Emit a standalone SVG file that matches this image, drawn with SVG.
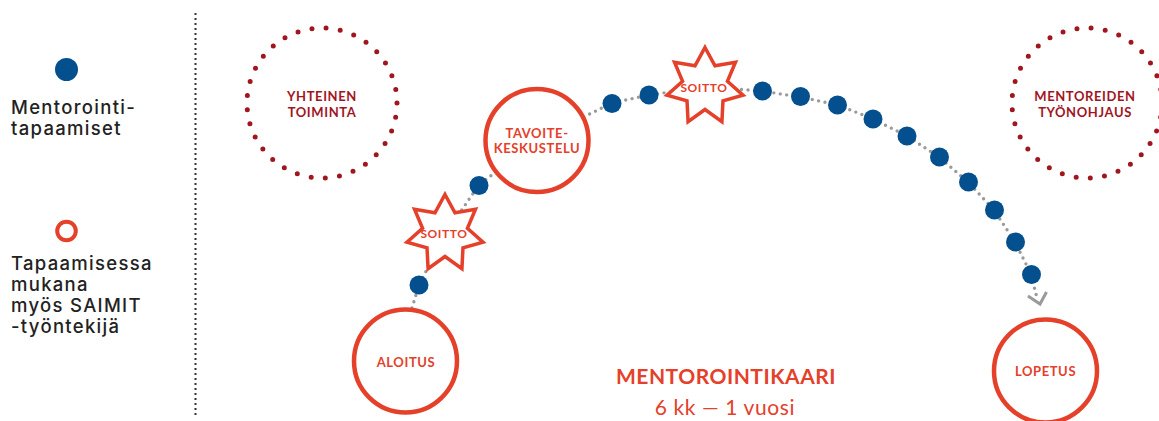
<svg xmlns="http://www.w3.org/2000/svg" width="1159" height="421" viewBox="0 0 1159 421">
  <style>
    .legend { font-family: Inter, Lato, "Noto Sans", sans-serif; font-weight: 500; font-size: 18.5px; fill: #222; letter-spacing: 1.3px; }
    .lbl { font-family: Lato, "Noto Sans", sans-serif; font-weight: 700; font-size: 13px; letter-spacing: 0.6px; text-anchor: middle; }
    .red { fill: #E5402A; }
    .dred { fill: #A0161F; }
    .ring { fill: #fff; stroke: #E5402A; stroke-width: 4.5; }
    .dotring { fill: none; stroke: #A0161F; stroke-width: 5; stroke-linecap: round; stroke-dasharray: 0 14.28; }
    .meet { fill: #04508F; }
    .star { fill: #fff; stroke: #E5402A; stroke-width: 3.5; stroke-linejoin: miter; }
    .trail { fill: none; stroke: #9A9A9A; stroke-width: 3.4; stroke-linecap: round; stroke-dasharray: 0 6.5; }
  </style>
  <defs>
    <polygon id="star7" points="0,-39 9.98,-20.72 30.49,-24.32 22.42,-5.12 38.02,8.68 17.98,14.34 16.92,35.14 0,23 -16.92,35.14 -17.98,14.34 -38.02,8.68 -22.42,-5.12 -30.49,-24.32 -9.98,-20.72"/>
  </defs>
  <rect width="1159" height="421" fill="#fff"/>

  <!-- legend -->
  <g id="legend">
    <circle cx="66.5" cy="69.5" r="11.5" class="meet"/>
    <text class="legend" x="11" y="114">Mentorointi-</text>
    <text class="legend" x="11" y="135">tapaamiset</text>
    <circle cx="66.5" cy="231" r="9.3" fill="none" stroke="#E5402A" stroke-width="4"/>
    <text class="legend" x="11" y="270">Tapaamisessa</text>
    <text class="legend" x="11" y="291">mukana</text>
    <text class="legend" x="11" y="312">myös SAIMIT</text>
    <text class="legend" x="11" y="333">-työntekijä</text>
  </g>
  <line x1="195.5" y1="13" x2="195.5" y2="416" stroke="#333" stroke-width="2" stroke-dasharray="2 3"/>

  <!-- connectors -->
  <g id="connectors">
    <path class="trail" d="M412,308 L419,285 L445,234 L479,185 L537,140 L612,103 L649,95 L705,87 L762,91 L800,97 L838,105 L873,119 L907,136 L939,157 L968,182 L994,210 L1015,242 L1031,274 L1037,298"/>
    <polyline points="1028,296 1040,304 1046.5,292" fill="none" stroke="#9A9A9A" stroke-width="3"/>
  </g>

  <!-- side activities -->
  <g id="yhteinen-toiminta">
    <circle cx="322" cy="103" r="75" class="dotring"/>
    <text class="lbl dred" x="322" y="101">YHTEINEN</text>
    <text class="lbl dred" x="322" y="117">TOIMINTA</text>
  </g>
  <g id="mentoreiden-tyonohjaus">
    <circle cx="1087" cy="103" r="75" class="dotring"/>
    <text class="lbl dred" x="1085" y="101">MENTOREIDEN</text>
    <text class="lbl dred" x="1085" y="117">TYÖNOHJAUS</text>
  </g>

  <!-- meetings with staff -->
  <g id="aloitus">
    <circle cx="405.5" cy="361" r="51.5" class="ring"/>
    <text class="lbl red" x="406" y="367">ALOITUS</text>
  </g>
  <g id="tavoitekeskustelu">
    <circle cx="537" cy="140.5" r="51.5" class="ring"/>
    <text class="lbl red" x="537" y="138">TAVOITE-</text>
    <text class="lbl red" x="537" y="153">KESKUSTELU</text>
  </g>
  <g id="lopetus">
    <circle cx="1045.5" cy="371" r="51.5" class="ring"/>
    <text class="lbl red" x="1045.5" y="376">LOPETUS</text>
  </g>

  <!-- calls -->
  <g id="soitto-1">
    <use href="#star7" class="star" transform="translate(445,233.5)"/>
    <text class="lbl red" x="444" y="238" style="font-size:12px">SOITTO</text>
  </g>
  <g id="soitto-2">
    <use href="#star7" class="star" transform="translate(705,86.5)"/>
    <text class="lbl red" x="704" y="92" style="font-size:12px">SOITTO</text>
  </g>

  <!-- mentoring meetings -->
  <g id="tapaamiset">
    <circle id="m1" class="meet" cx="419" cy="285" r="9.5"/>
    <circle id="m2" class="meet" cx="479" cy="185.5" r="9.5"/>
    <circle id="m3" class="meet" cx="612" cy="103.5" r="9.5"/>
    <circle id="m4" class="meet" cx="649" cy="95" r="9.5"/>
    <circle id="m5" class="meet" cx="762.5" cy="91" r="9.5"/>
    <circle id="m6" class="meet" cx="800.5" cy="96.5" r="9.5"/>
    <circle id="m7" class="meet" cx="837.5" cy="105" r="9.5"/>
    <circle id="m8" class="meet" cx="873" cy="119" r="9.5"/>
    <circle id="m9" class="meet" cx="907" cy="136" r="9.5"/>
    <circle id="m10" class="meet" cx="939.5" cy="157" r="9.5"/>
    <circle id="m11" class="meet" cx="968.5" cy="182" r="9.5"/>
    <circle id="m12" class="meet" cx="994.5" cy="210" r="9.5"/>
    <circle id="m13" class="meet" cx="1015.5" cy="242" r="9.5"/>
    <circle id="m14" class="meet" cx="1031.5" cy="274.5" r="9.5"/>
  </g>

  <!-- title -->
  <g id="title">
    <text x="726" y="384" text-anchor="middle" font-family="Lato, 'Noto Sans', sans-serif" font-weight="700" font-size="21" letter-spacing="0.5" fill="#E5402A">MENTOROINTIKAARI</text>
    <text x="725" y="415" text-anchor="middle" font-family="Lato, 'Noto Sans', sans-serif" font-size="21" letter-spacing="0.6" fill="#E5402A">6 kk — 1 vuosi</text>
  </g>
</svg>
